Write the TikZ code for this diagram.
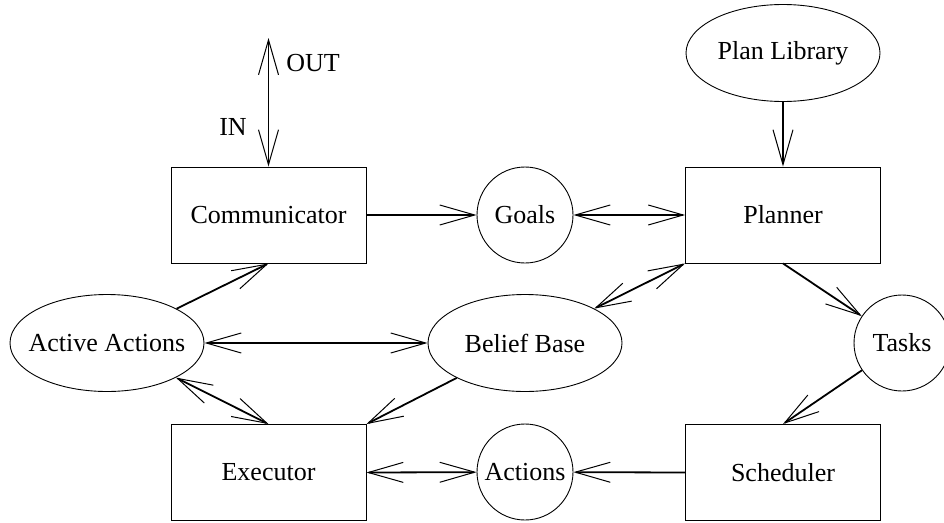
\documentclass[tikz,border=0pt]{standalone}
\usepackage{fontspec}
\setmainfont{Liberation Serif}
\usetikzlibrary{arrows.meta,shapes.geometric}
\tikzset{
  barb/.tip={Straight Barb[length=35pt,width=20pt,line width=1pt]},
}
% centred text of no width, so the outline keeps its set size
\newcommand{\flatlabel}[1]{\makebox[0pt]{#1}}
\begin{document}
\begin{tikzpicture}[x=1pt,y=-1pt,
  every node/.style={font=\fontsize{26}{30}\selectfont, inner sep=0pt, line width=0.9pt},
  boxnode/.style={draw, rectangle, minimum width=195pt, minimum height=96pt},
  ovalnode/.style={draw, ellipse, minimum width=194pt, minimum height=97pt},
  circnode/.style={draw, circle, minimum size=96pt},
  fwd/.style={line width=1.8pt, -barb},
  both/.style={line width=1.8pt, barb-barb},
]
\useasboundingbox (0,0) rectangle (944,522);

% components
\node[boxnode] (comm)  at (268.5,215)   {Communicator};
\node[boxnode] (plan)  at (783,215)     {Planner};
\node[boxnode] (exec)  at (268.5,472.5) {Executor};
\node[boxnode] (sched) at (783,472.5)   {Scheduler};

% data stores
\node[ovalnode] (lib)    at (783,53)  {\flatlabel{Plan Library}};
\node[ovalnode] (active) at (107,343) {\flatlabel{Active Actions}};
\node[ovalnode] (belief) at (525,343) {\flatlabel{Belief Base}};
\node[circnode] (goals)   at (525,215) {\flatlabel{Goals}};
\node[circnode] (actions) at (525,472) {\flatlabel{Actions}};
\node[circnode] (tasks)   at (902,343) {\flatlabel{Tasks}};

% external channel
\coordinate (ext) at (268.5,38);
\node (out) at (313,63)  {OUT};
\node (in)  at (233,127) {IN};

% flows
\draw[both] (ext) -- (comm.north);
\draw[fwd]  (comm.east) -- (goals);
\draw[both] (goals) -- (plan.west);
\draw[fwd]  (lib) -- (plan.north);
\draw[fwd]  (plan.south) -- (tasks);
\draw[fwd]  (tasks) -- (sched.north);
\draw[fwd]  (sched.west) -- (actions);
\draw[both] (exec.east) -- (actions);
\draw[both] (belief) -- (plan.south west);
\draw[fwd]  (belief) -- (exec.north east);
\draw[fwd]  (active) -- (comm.south);
\draw[both] (active) -- (belief);
\draw[both] (active) -- (exec.north);
\end{tikzpicture}
\end{document}
